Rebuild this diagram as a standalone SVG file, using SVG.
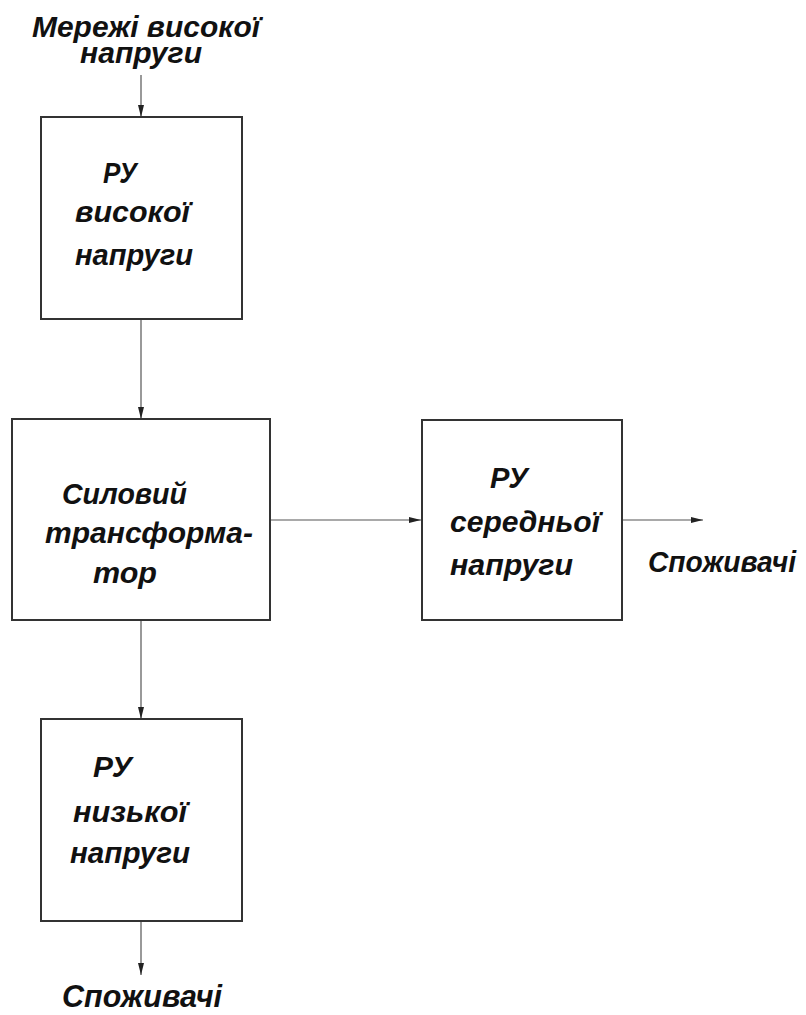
<svg xmlns="http://www.w3.org/2000/svg" width="806" height="1015" viewBox="0 0 806 1015">
<defs>
<style>
.box{fill:#fff;stroke:#333;stroke-width:2}
.ln{stroke:#555;stroke-width:1.2;fill:none}
.t{font-family:"Liberation Sans",Arial,sans-serif;font-weight:bold;font-style:italic;fill:#111}
</style>
<marker id="ah" viewBox="0 0 12 6" refX="12" refY="3" markerWidth="12" markerHeight="6" markerUnits="userSpaceOnUse" orient="auto">
<path d="M0,0 L12,3 L0,6 z" fill="#222"/>
</marker>
</defs>
<rect width="806" height="1015" fill="#fff"/>
<g id="connectors">
<line class="ln" x1="141" y1="75" x2="141" y2="117" marker-end="url(#ah)"/>
<line class="ln" x1="141" y1="319" x2="141" y2="419" marker-end="url(#ah)"/>
<line class="ln" x1="270" y1="520" x2="421" y2="520" marker-end="url(#ah)"/>
<line class="ln" x1="622" y1="520" x2="703" y2="520" marker-end="url(#ah)"/>
<line class="ln" x1="141" y1="620" x2="141" y2="719" marker-end="url(#ah)"/>
<line class="ln" x1="141" y1="921" x2="141" y2="975" marker-end="url(#ah)"/>
</g>
<g id="input-label">
<text class="t" font-size="30"><tspan x="32" y="37" textLength="228" lengthAdjust="spacingAndGlyphs">Мережі високої</tspan><tspan x="80" y="63" textLength="122" lengthAdjust="spacingAndGlyphs">напруги</tspan></text>
</g>
<g id="ru-high">
<rect class="box" x="41" y="117" width="201" height="202"/>
<text class="t" x="103" y="183" font-size="29" textLength="34" lengthAdjust="spacingAndGlyphs">РУ</text>
<text class="t" x="75" y="222" font-size="29" textLength="115" lengthAdjust="spacingAndGlyphs">високої</text>
<text class="t" x="75" y="265" font-size="29" textLength="118" lengthAdjust="spacingAndGlyphs">напруги</text>
</g>
<g id="transformer">
<rect class="box" x="12" y="419" width="258" height="201"/>
<text class="t" x="62" y="504" font-size="30" textLength="125" lengthAdjust="spacingAndGlyphs">Силовий</text>
<text class="t" x="45" y="543" font-size="30" textLength="208" lengthAdjust="spacingAndGlyphs">трансформа-</text>
<text class="t" x="93" y="583" font-size="30" textLength="64" lengthAdjust="spacingAndGlyphs">тор</text>
</g>
<g id="ru-medium">
<rect class="box" x="422" y="420" width="200" height="200"/>
<text class="t" x="490" y="488" font-size="29" textLength="38" lengthAdjust="spacingAndGlyphs">РУ</text>
<text class="t" x="450" y="532" font-size="29" textLength="150" lengthAdjust="spacingAndGlyphs">середньої</text>
<text class="t" x="450" y="575" font-size="29" textLength="123" lengthAdjust="spacingAndGlyphs">напруги</text>
</g>
<g id="consumers-medium">
<text class="t" x="648" y="572" font-size="29" textLength="148" lengthAdjust="spacingAndGlyphs">Споживачі</text>
</g>
<g id="ru-low">
<rect class="box" x="41" y="719" width="201" height="202"/>
<text class="t" x="93" y="777" font-size="29" textLength="39" lengthAdjust="spacingAndGlyphs">РУ</text>
<text class="t" x="73" y="822" font-size="29" textLength="114" lengthAdjust="spacingAndGlyphs">низької</text>
<text class="t" x="70" y="863" font-size="29" textLength="120" lengthAdjust="spacingAndGlyphs">напруги</text>
</g>
<g id="consumers-low">
<text class="t" x="62" y="1007" font-size="31" textLength="160" lengthAdjust="spacingAndGlyphs">Споживачі</text>
</g>
</svg>
